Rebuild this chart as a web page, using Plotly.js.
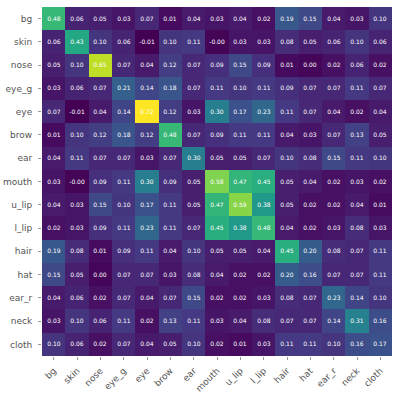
<!DOCTYPE html>
<html>
<head>
<meta charset="utf-8">
<script src="https://cdn.plot.ly/plotly-3.0.1.min.js"></script>
<style>
  html, body { margin: 0; padding: 0; background: #fff; }
  #chart { width: 399px; height: 399px; }
</style>
</head>
<body>
<div id="chart"></div>
<script>
var labels = ['bg', 'skin', 'nose', 'eye_g', 'eye', 'brow', 'ear', 'mouth', 'u_lip', 'l_lip', 'hair', 'hat', 'ear_r', 'neck', 'cloth'];

var rowBg    = [0.48, 0.06, 0.05, 0.03, 0.07, 0.01, 0.04, 0.03, 0.04, 0.02, 0.19, 0.15, 0.04, 0.03, 0.10];
var rowSkin  = [0.06, 0.43, 0.10, 0.06, -0.01, 0.10, 0.11, -0.003, 0.03, 0.03, 0.08, 0.05, 0.06, 0.10, 0.06];
var rowNose  = [0.05, 0.10, 0.65, 0.07, 0.04, 0.12, 0.07, 0.09, 0.15, 0.09, 0.01, 0.00, 0.02, 0.06, 0.02];
var rowEyeG  = [0.03, 0.06, 0.07, 0.21, 0.14, 0.18, 0.07, 0.11, 0.10, 0.11, 0.09, 0.07, 0.07, 0.11, 0.07];
var rowEye   = [0.07, -0.01, 0.04, 0.14, 0.72, 0.12, 0.03, 0.30, 0.17, 0.23, 0.11, 0.07, 0.04, 0.02, 0.04];
var rowBrow  = [0.01, 0.10, 0.12, 0.18, 0.12, 0.48, 0.07, 0.09, 0.11, 0.11, 0.04, 0.03, 0.07, 0.13, 0.05];
var rowEar   = [0.04, 0.11, 0.07, 0.07, 0.03, 0.07, 0.30, 0.05, 0.05, 0.07, 0.10, 0.08, 0.15, 0.11, 0.10];
var rowMouth = [0.03, -0.003, 0.09, 0.11, 0.30, 0.09, 0.05, 0.58, 0.47, 0.45, 0.05, 0.04, 0.02, 0.03, 0.02];
var rowULip  = [0.04, 0.03, 0.15, 0.10, 0.17, 0.11, 0.05, 0.47, 0.59, 0.38, 0.05, 0.02, 0.02, 0.04, 0.01];
var rowLLip  = [0.02, 0.03, 0.09, 0.11, 0.23, 0.11, 0.07, 0.45, 0.38, 0.48, 0.04, 0.02, 0.03, 0.08, 0.03];
var rowHair  = [0.19, 0.08, 0.01, 0.09, 0.11, 0.04, 0.10, 0.05, 0.05, 0.04, 0.45, 0.20, 0.08, 0.07, 0.11];
var rowHat   = [0.15, 0.05, 0.00, 0.07, 0.07, 0.03, 0.08, 0.04, 0.02, 0.02, 0.20, 0.16, 0.07, 0.07, 0.11];
var rowEarR  = [0.04, 0.06, 0.02, 0.07, 0.04, 0.07, 0.15, 0.02, 0.02, 0.03, 0.08, 0.07, 0.23, 0.14, 0.10];
var rowNeck  = [0.03, 0.10, 0.06, 0.11, 0.02, 0.13, 0.11, 0.03, 0.04, 0.08, 0.07, 0.07, 0.14, 0.31, 0.16];
var rowCloth = [0.10, 0.06, 0.02, 0.07, 0.04, 0.05, 0.10, 0.02, 0.01, 0.03, 0.11, 0.11, 0.10, 0.16, 0.17];

var z = [rowBg, rowSkin, rowNose, rowEyeG, rowEye, rowBrow, rowEar, rowMouth, rowULip, rowLLip, rowHair, rowHat, rowEarR, rowNeck, rowCloth];
// labels as matplotlib prints them, -0.00 kept
var text = z.map(function(row) { return row.map(function(v) { return v.toFixed(2); }); });

var trace = {
  type: 'heatmap',
  x: labels,
  y: labels,
  z: z,
  text: text,
  texttemplate: '%{text}',
  textfont: {family: 'DejaVu Sans', size: 6, color: '#ffffff'},
  colorscale: 'Viridis',
  zmin: -0.01,
  zmax: 0.72,
  showscale: false,
  hoverinfo: 'none'
};

var layout = {
  width: 399,
  height: 399,
  margin: {l: 42, r: 7, t: 7, b: 43},
  paper_bgcolor: '#ffffff',
  plot_bgcolor: '#ffffff',
  font: {family: 'DejaVu Sans', size: 9, color: '#555555'},
  xaxis: {
    type: 'category',
    tickangle: -45,
    ticks: 'outside',
    ticklen: 3,
    tickcolor: '#999999',
    ticklabelstandoff: 2,
    showgrid: false,
    zeroline: false,
    showline: false,
    tickfont: {size: 9, color: '#555555'}
  },
  yaxis: {
    type: 'category',
    autorange: 'reversed',
    ticks: 'outside',
    ticklen: 3,
    tickcolor: '#999999',
    ticklabelstandoff: 4,
    showgrid: false,
    zeroline: false,
    showline: false,
    tickfont: {size: 9, color: '#555555'}
  }
};

Plotly.newPlot('chart', [trace], layout, {displayModeBar: false, staticPlot: true});
</script>
</body>
</html>
